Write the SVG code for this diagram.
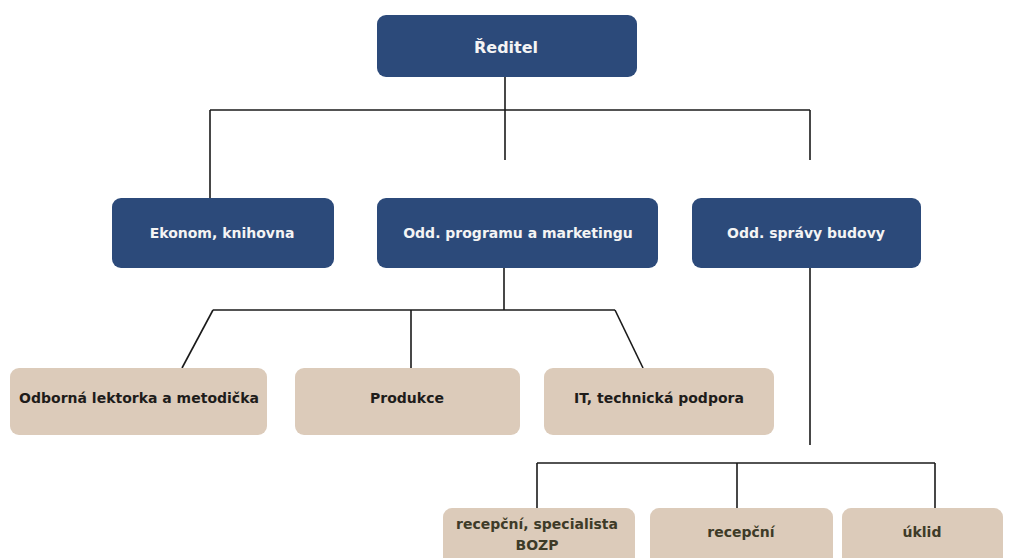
<svg xmlns="http://www.w3.org/2000/svg" width="1013" height="558" viewBox="0 0 1013 558">
<style>
.navy{fill:#2c4a7a}
.tan{fill:#dccbba}
.tw{font-family:"DejaVu Sans","Liberation Sans",sans-serif;font-weight:bold;fill:#f4f4f4;text-anchor:middle;font-size:14px}
.tb{font-family:"DejaVu Sans","Liberation Sans",sans-serif;font-weight:bold;fill:#1e1c1a;text-anchor:middle;font-size:14px}
.to{font-family:"DejaVu Sans","Liberation Sans",sans-serif;font-weight:bold;fill:#3e3b28;text-anchor:middle;font-size:14px}
.c{stroke:#1a1a1a;stroke-width:1.6;fill:none}
</style>
<rect width="1013" height="558" fill="#ffffff"/>
<g id="connectors">
<path class="c" d="M505 77 V160"/>
<path class="c" d="M210 110 H810"/>
<path class="c" d="M210 110 V198"/>
<path class="c" d="M810 110 V160"/>
<path class="c" d="M504 268 V310"/>
<path class="c" d="M213 310 H615"/>
<path class="c" d="M213 310 L182 368"/>
<path class="c" d="M411 310 V368"/>
<path class="c" d="M615 310 L643 368"/>
<path class="c" d="M810 268 V445"/>
<path class="c" d="M537 463 H935"/>
<path class="c" d="M537 463 V508"/>
<path class="c" d="M737 463 V508"/>
<path class="c" d="M935 463 V508"/>
</g>
<g id="reditel">
<rect class="navy" x="377" y="15" width="260" height="62" rx="9"/>
<text class="tw" x="506" y="53" style="font-size:16px">Ředitel</text>
</g>
<g id="ekonom">
<rect class="navy" x="112" y="198" width="222" height="70" rx="9"/>
<text class="tw" x="222" y="238">Ekonom, knihovna</text>
</g>
<g id="odd-programu">
<rect class="navy" x="377" y="198" width="281" height="70" rx="9"/>
<text class="tw" x="518" y="238">Odd. programu a marketingu</text>
</g>
<g id="odd-spravy">
<rect class="navy" x="692" y="198" width="229" height="70" rx="9"/>
<text class="tw" x="806" y="238">Odd. správy budovy</text>
</g>
<g id="lektorka">
<rect class="tan" x="10" y="368" width="257" height="67" rx="9"/>
<text class="tb" x="139" y="403">Odborná lektorka a metodička</text>
</g>
<g id="produkce">
<rect class="tan" x="295" y="368" width="225" height="67" rx="9"/>
<text class="tb" x="407" y="403">Produkce</text>
</g>
<g id="it">
<rect class="tan" x="544" y="368" width="230" height="67" rx="9"/>
<text class="tb" x="659" y="403">IT, technická podpora</text>
</g>
<g id="recepcni-bozp">
<rect class="tan" x="443" y="508" width="192" height="60" rx="9"/>
<text class="to" x="537" y="529">recepční, specialista</text>
<text class="to" x="537" y="550">BOZP</text>
</g>
<g id="recepcni">
<rect class="tan" x="650" y="508" width="183" height="60" rx="9"/>
<text class="to" x="741" y="537">recepční</text>
</g>
<g id="uklid">
<rect class="tan" x="842" y="508" width="161" height="60" rx="9"/>
<text class="to" x="922" y="537">úklid</text>
</g>
</svg>
